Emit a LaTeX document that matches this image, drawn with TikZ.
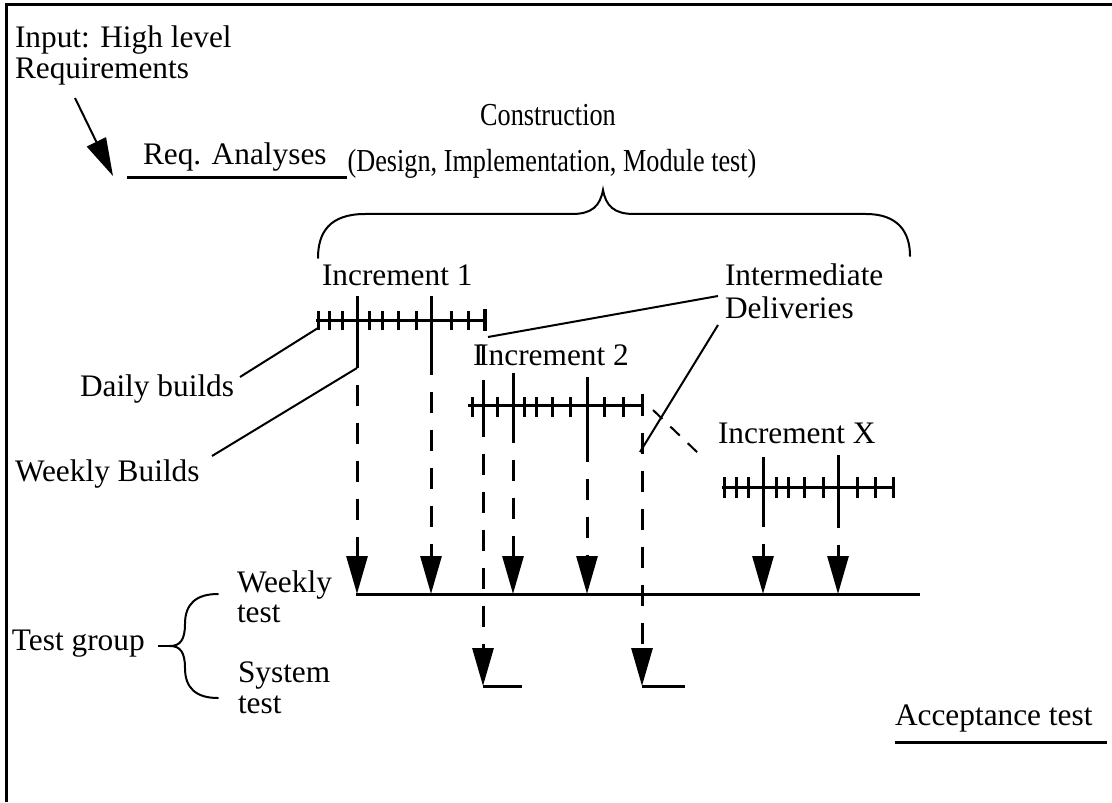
\documentclass[tikz,border=0pt]{standalone}
\usepackage{fontspec}
\setmainfont{Liberation Serif}
\newfontfamily\narrowserif{Liberation Serif}[FakeStretch=0.82]
\usetikzlibrary{arrows.meta}
\begin{document}
\begin{tikzpicture}[x=0.75pt,y=-0.75pt,
  lbl/.style={inner sep=0pt, outer sep=0pt, anchor=base west, font=\fontsize{23.5}{25}\selectfont},
  title/.style={inner sep=0pt, outer sep=0pt, anchor=base, font=\narrowserif\fontsize{24}{26}\selectfont},
  heavy/.style={line width=2.25pt},
  slim/.style={line width=1.5pt},
  tickline/.style={line width=2.25pt},
  endtick/.style={line width=3pt},
  dashline/.style={line width=2.25pt, dash pattern=on 16pt off 12.5pt, dash phase=16pt},
  shortdash/.style={line width=1.5pt, dash pattern=on 9.75pt off 8.25pt},
  tipped/.style={-{Triangle[length=28.5pt,width=15.75pt]}},
  bracestyle/.style={line width=1.5pt, line cap=round}]
\useasboundingbox (0,0) rectangle (1112,802);

% outer frame (top and left edges)
\coordinate (frBL) at (6,802);
\coordinate (frTL) at (6,5);
\coordinate (frTR) at (1112,5);
\draw[heavy] (frBL) -- (frTL) -- (frTR);

% input and requirement analysis
\node[lbl] (input1) at (15,48) {Input: High level};
\node[lbl] (input2) at (15,79) {Requirements};
\coordinate (inA) at (75,98);
\coordinate (inB) at (113,176);
\draw[slim, tipped] (inA) -- (inB);
\node[lbl] (reqan) at (143,165) {Req. Analyses};
\coordinate (reqL) at (127,178);
\coordinate (reqR) at (347,178);
\draw[heavy] (reqL) -- (reqR);

% construction phase with its brace
\node[title] (constr) at (548,126) {Construction};
\node[title] (constr2) at (552,172) {(Design, Implementation, Module test)};
\coordinate (brL) at (318,258);
\coordinate (brTip) at (603,190);
\coordinate (brR) at (910,256);
\draw[bracestyle] (brL) .. controls (318,232) and (330,214) .. (365,214)
  -- (572,214) .. controls (592,214) and (600,206) .. (brTip)
  .. controls (606,206) and (614,214) .. (634,214)
  -- (866,214) .. controls (898,214) and (910,232) .. (brR);

% ---------- Increment 1 ----------
\node[lbl] (inc1) at (322,285) {Increment 1};
\coordinate (i1L) at (316,320);
\coordinate (i1R) at (486,320);
\draw[heavy] (i1L) -- (i1R);
\foreach \x in {318,329,342,369,382,398,416,451,468}
  \draw[tickline] (\x,311) -- (\x,330);
\draw[endtick] (485,309) -- (485,331);
\coordinate (i1aT) at (357,296);
\coordinate (i1aS) at (357,368);
\coordinate (i1aW) at (357,594);
\coordinate (i1bT) at (431,296);
\coordinate (i1bS) at (431,375);
\coordinate (i1bW) at (431,594);
\draw[heavy] (i1aT) -- (i1aS);
\draw[heavy] (i1bT) -- (i1bS);
\draw[dashline, tipped] (i1aS) -- (i1aW);
\draw[dashline, tipped] (i1bS) -- (i1bW);

% ---------- Increment 2 ----------
\node[lbl] (inc2) at (473,365) {I\kern-3.9pt Increment 2};
\coordinate (i2L) at (468,405);
\coordinate (i2R) at (642,405);
\draw[heavy] (i2L) -- (i2R);
\foreach \x in {472,497,524,536,552,570,604,623}
  \draw[tickline] (\x,397) -- (\x,417);
\coordinate (i2eT) at (642,394);
\coordinate (i2eS) at (642,416);
\coordinate (i2eY) at (642,686);
\draw[tickline] (i2eT) -- (i2eS);
\coordinate (i2aT) at (483,380);
\coordinate (i2aS) at (483,437);
\coordinate (i2aY) at (483,686);
\coordinate (i2bT) at (513,373);
\coordinate (i2bS) at (513,443);
\coordinate (i2bW) at (513,594);
\coordinate (i2cT) at (587,377);
\coordinate (i2cS) at (587,462);
\coordinate (i2cW) at (587,594);
\draw[heavy] (i2aT) -- (i2aS);
\draw[heavy] (i2bT) -- (i2bS);
\draw[heavy] (i2cT) -- (i2cS);
\draw[dashline, tipped] (i2aS) -- (i2aY);
\draw[dashline, tipped] (i2bS) -- (i2bW);
\draw[dashline, tipped] (i2cS) -- (i2cW);
\draw[dashline, tipped] (i2eS) -- (i2eY);

% continuation towards later increments
\coordinate (contA) at (653,410);
\coordinate (contB) at (698,453);
\draw[shortdash] (contA) -- (contB);

% ---------- Increment X ----------
\node[lbl] (incx) at (718,443) {Increment X};
\coordinate (ixL) at (722,487);
\coordinate (ixR) at (894,487);
\draw[heavy] (ixL) -- (ixR);
\foreach \x in {724,736,748,776,788,804,823,857,875,893}
  \draw[tickline] (\x,477) -- (\x,498);
\coordinate (ixaT) at (763,457);
\coordinate (ixaS) at (763,527);
\coordinate (ixaW) at (763,594);
\coordinate (ixbT) at (838,455);
\coordinate (ixbS) at (838,528);
\coordinate (ixbW) at (838,594);
\draw[heavy] (ixaT) -- (ixaS);
\draw[heavy] (ixbT) -- (ixbS);
\draw[dashline, tipped] (ixaS) -- (ixaW);
\draw[dashline, tipped] (ixbS) -- (ixbW);

% weekly test line
\coordinate (wkL) at (356,594);
\coordinate (wkR) at (920,594);
\draw[heavy] (wkL) -- (wkR);

% system test stubs
\coordinate (sy1R) at (522,686);
\coordinate (sy2R) at (685,686);
\draw[heavy] (i2aY) -- (sy1R);
\draw[heavy] (i2eY) -- (sy2R);

% build callouts
\node[lbl] (daily) at (80,396) {Daily builds};
\node[lbl] (weekly) at (15,481) {Weekly Builds};
\coordinate (dailyEnd) at (240,377);
\coordinate (i1Lb) at (318,328);
\coordinate (weeklyEnd) at (212,456);
\draw[slim] (dailyEnd) -- (i1Lb);
\draw[slim] (weeklyEnd) -- (i1aS);

% intermediate deliveries callouts
\node[lbl] (interm1) at (725,285) {Intermediate};
\node[lbl] (interm2) at (725,318) {Deliveries};
\coordinate (idA) at (718,296);
\coordinate (idB) at (718,325);
\coordinate (idEnd1) at (488,337);
\coordinate (idEnd2) at (640,452);
\draw[slim] (idEnd1) -- (idA);
\draw[slim] (idB) -- (idEnd2);

% test group
\node[lbl] (wt1) at (237,592) {Weekly};
\node[lbl] (wt2) at (237,622) {test};
\node[lbl] (st1) at (238,682) {System};
\node[lbl] (st2) at (238,713) {test};
\node[lbl] (tgroup) at (12,650) {Test group};
\coordinate (tgDash) at (158,646);
\coordinate (tgTip) at (170,646);
\coordinate (tgTop) at (218,594);
\coordinate (tgBot) at (218,698);
\draw[slim] (tgDash) -- (tgTip);
\draw[bracestyle] (tgTop) .. controls (196,594) and (185,604) .. (185,624)
  .. controls (185,640) and (180,646) .. (tgTip)
  .. controls (180,646) and (185,652) .. (185,668)
  .. controls (185,688) and (196,698) .. (tgBot);

% acceptance test
\node[lbl] (accept) at (895,725) {Acceptance test};
\coordinate (accL) at (895,742);
\coordinate (accR) at (1107,742);
\draw[heavy] (accL) -- (accR);
\end{tikzpicture}
\end{document}
